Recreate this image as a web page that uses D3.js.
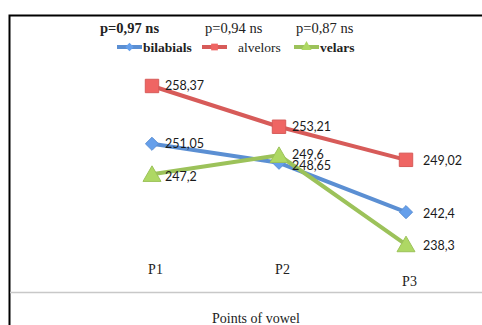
<!DOCTYPE html>
<html>
<head>
<meta charset="utf-8">
<script src="https://cdn.jsdelivr.net/npm/d3@7"></script>
<style>
  html, body { margin: 0; padding: 0; background: #fff; }
  #chart { width: 482px; height: 325px; }
</style>
</head>
<body>
<div id="chart"></div>
<script>
// datos
const puntos = ["P1", "P2", "P3"];
const bilabials = [251.05, 248.65, 242.4];
const alvelors = [258.37, 253.21, 249.02];
const velars = [247.2, 249.6, 238.3];
const etiquetasP = ["p=0,97 ns", "p=0,94 ns", "p=0,87 ns"];
const nombres = ["bilabials", "alvelors", "velars"];

const fmt = v => String(v).replace(".", ",");

const width = 482, height = 325;
const serif = "'Liberation Serif', 'DejaVu Serif', serif";
const sans = "Lato, 'Open Sans', sans-serif";

const series = [
  { nombre: nombres[0], valores: bilabials, color: "#5b8fd3", marca: "diamond" },
  { nombre: nombres[1], valores: alvelors, color: "#d75b59", marca: "square" },
  { nombre: nombres[2], valores: velars, color: "#9cc25a", marca: "triangle" }
];

const svg = d3.select("#chart")
  .append("svg")
  .attr("width", width)
  .attr("height", height)
  .style("background", "#fff");

// marco
svg.append("path")
  .attr("d", `M9.5,${height} V15.5 H${width}`)
  .attr("fill", "none")
  .attr("stroke", "#000")
  .attr("stroke-width", 2);

const x = d3.scalePoint().domain(puntos).range([152, 406]);
const y = d3.scaleLinear().domain([236, 260]).range([262.7, 73.1]);

// linea gris inferior
svg.append("line")
  .attr("x1", 10).attr("x2", width)
  .attr("y1", 292.5).attr("y2", 292.5)
  .attr("stroke", "#c8c8c8")
  .attr("stroke-width", 1.5);

// eje x (solo etiquetas)
const ejeX = svg.append("g")
  .attr("transform", "translate(3,261)")
  .call(d3.axisBottom(x).tickSize(0).tickPadding(0));
ejeX.select(".domain").remove();
ejeX.selectAll("text")
  .attr("font-family", serif)
  .attr("font-size", 14)
  .attr("fill", "#222")
  .attr("dy", (d, i) => i === 2 ? "1.8em" : "0.9em");

svg.append("text")
  .attr("x", 256)
  .attr("y", 323)
  .attr("text-anchor", "middle")
  .attr("font-family", serif)
  .attr("font-size", 14)
  .attr("fill", "#222")
  .text("Points of vowel");

const line = d3.line()
  .x((d, i) => x(puntos[i]))
  .y(d => y(d));

const simbolos = {
  diamond: d3.symbol().type(d3.symbolDiamond2).size(110),
  square: d3.symbol().type(d3.symbolSquare).size(180),
  triangle: d3.symbol().type(d3.symbolTriangle).size(140)
};

series.forEach(s => {
  svg.append("path")
    .datum(s.valores)
    .attr("fill", "none")
    .attr("stroke", s.color)
    .attr("stroke-width", 4)
    .attr("stroke-linejoin", "round")
    .attr("d", line);
});

series.forEach(s => {
  svg.selectAll(null)
    .data(s.valores)
    .join("path")
    .attr("transform", (d, i) => `translate(${x(puntos[i])},${y(d) + (s.marca === "triangle" ? 2 : 0)})`)
    .attr("d", simbolos[s.marca])
    .attr("fill", d3.color(s.color).brighter(0.3))
    .attr("stroke", s.color)
    .attr("stroke-width", 1);
});

// etiquetas de datos
const offsets = {
  bilabials: [0, 3, 1],
  alvelors: [0, 0, 1],
  velars: [2, -1, 1]
};
series.forEach(s => {
  svg.selectAll(null)
    .data(s.valores)
    .join("text")
    .attr("x", (d, i) => x(puntos[i]) + (i === 2 ? 17 : 13))
    .attr("y", (d, i) => y(d) + offsets[s.nombre][i])
    .attr("dy", "0.35em")
    .attr("font-family", sans)
    .attr("font-size", 12.5)
    .attr("fill", "#1a1a1a")
    .text(d => fmt(d));
});

// leyenda superior
const pX = [100, 205, 296];
svg.selectAll(null)
  .data(etiquetasP)
  .join("text")
  .attr("x", (d, i) => pX[i])
  .attr("y", 33)
  .attr("font-family", serif)
  .attr("font-size", 14.5)
  .attr("font-weight", (d, i) => i === 0 ? "bold" : "normal")
  .attr("fill", "#222")
  .text(d => d);

const legX = [117, 202, 294];
const leg = svg.selectAll(".leg")
  .data(series)
  .join("g")
  .attr("class", "leg")
  .attr("transform", (d, i) => `translate(${legX[i]},47)`);

leg.append("line")
  .attr("x1", 0).attr("x2", 25)
  .attr("stroke", d => d.color)
  .attr("stroke-width", 4);

leg.append("path")
  .attr("transform", "translate(12.5,0)")
  .attr("d", d => d3.symbol().type(d.marca === "diamond" ? d3.symbolDiamond2 : d.marca === "square" ? d3.symbolSquare : d3.symbolTriangle).size(45)())
  .attr("fill", d => d3.color(d.color).brighter(0.3));

leg.append("text")
  .attr("x", (d, i) => i === 1 ? 36 : 26)
  .attr("y", 0)
  .attr("dy", "0.35em")
  .attr("font-family", serif)
  .attr("font-size", 13.5)
  .attr("font-weight", (d, i) => i === 1 ? "normal" : "bold")
  .attr("fill", "#222")
  .text(d => d.nombre);
</script>
</body>
</html>
